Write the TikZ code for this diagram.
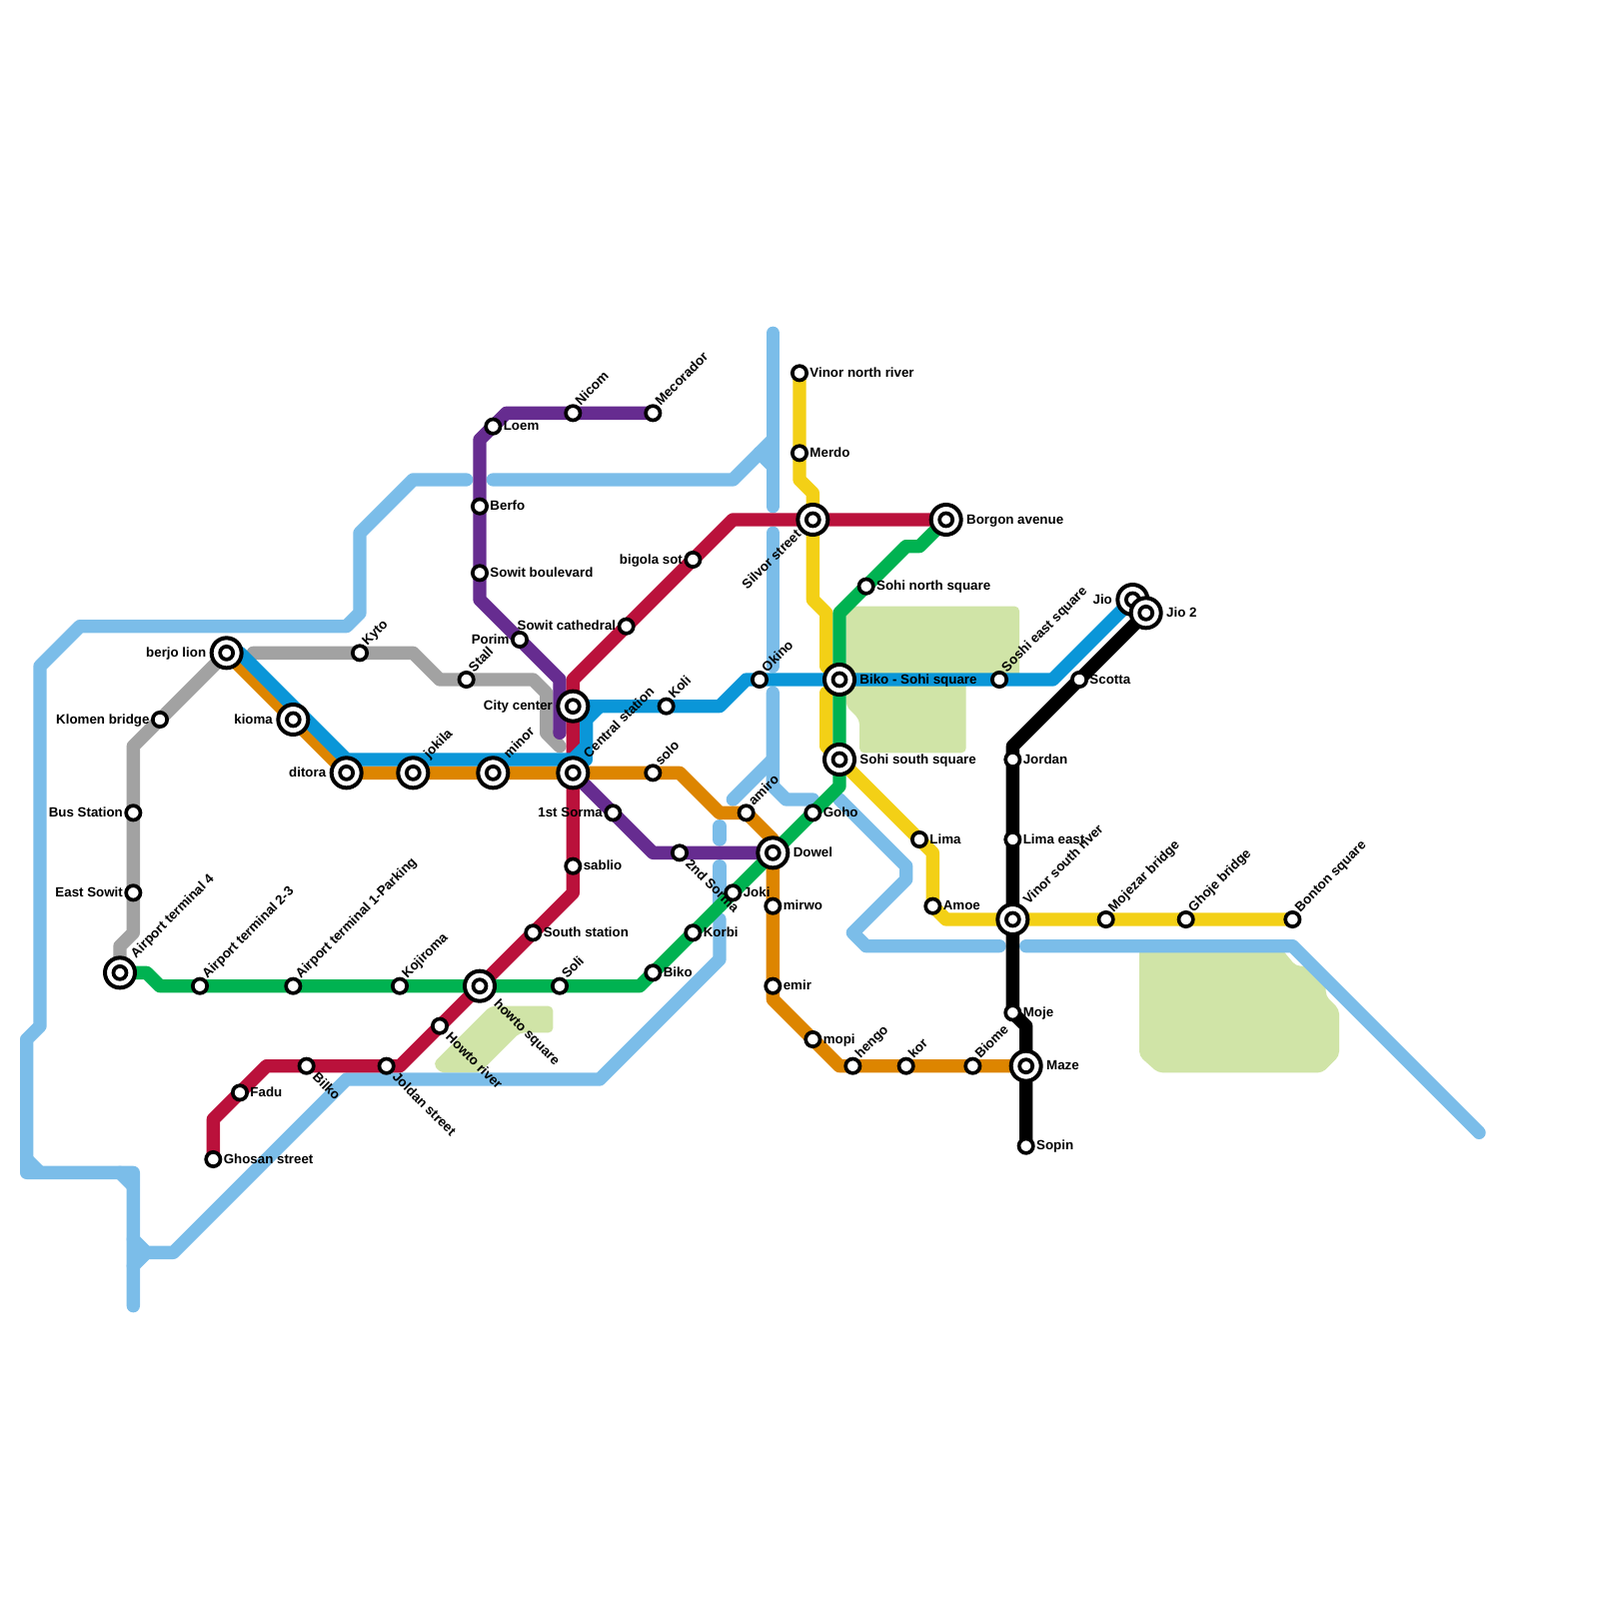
\documentclass[tikz,border=0pt]{standalone}
\usepackage{fontspec}
\setmainfont{Liberation Sans}
\pgfdeclarelayer{lines}
\pgfsetlayers{lines,main}
\definecolor{riverblue}{HTML}{7BBDE9}
\definecolor{parkgreen}{HTML}{D0E4A7}
\definecolor{linegrey}{HTML}{A2A2A2}
\definecolor{linepurple}{HTML}{662C90}
\definecolor{linered}{HTML}{BA113B}
\definecolor{lineyellow}{HTML}{F3D016}
\definecolor{lineorange}{HTML}{DD8500}
\definecolor{lineblue}{HTML}{0A96D8}
\definecolor{linegreen}{HTML}{00B251}
\tikzset{
  route/.style={line width=2mm, line cap=round, line join=round},
  river/.style={route, draw=riverblue},
  park/.style={fill=parkgreen, rounded corners=0.7mm},
  stop/.style={circle, draw=black, fill=white, line width=0.55mm, minimum size=2.15mm, inner sep=0pt},
  hub/.style={circle, draw=black, fill=white, line width=0.6mm, minimum size=4.5mm, inner sep=0pt},
  hubin/.style={circle, draw=black, fill=white, line width=0.56mm, minimum size=1.95mm, inner sep=0pt},
  lbl/.style={font=\bfseries\fontsize{5.69}{6}\selectfont, inner sep=0pt, text=black},
  lble/.style={lbl, anchor=base west, xshift=1.5mm, yshift=-0.6mm},
  lblw/.style={lbl, anchor=base east, xshift=-1.5mm, yshift=-0.6mm},
  lblne/.style={lbl, xshift=1.1mm, yshift=1mm, rotate=45, anchor=base west},
  lblse/.style={lbl, xshift=0.75mm, yshift=-1.75mm, rotate=-45, anchor=base west},
  hubne/.style={lbl, xshift=2.35mm, yshift=2.1mm, rotate=45, anchor=base west},
  hubse/.style={lbl, xshift=2mm, yshift=-2.75mm, rotate=-45, anchor=base west},
  hubsw/.style={lbl, xshift=-1.6mm, yshift=-2.3mm, rotate=45, anchor=base east},
  hube/.style={lbl, anchor=base west, xshift=3mm, yshift=-0.6mm},
  hubw/.style={lbl, anchor=base east, xshift=-3mm, yshift=-0.6mm}
}
\begin{document}
\begin{tikzpicture}[x=2mm,y=-2mm]
  \useasboundingbox (0,0) rectangle (120,120);
  % small stops
  \foreach \nm/\x/\y/\txt in {kyto/27/49/Kyto,stall/35/51/Stall,okino/57/51/Okino,koli/50/53/Koli,solo/49/58/solo,amiro/56/61/amiro,soli/42/74/Soli,kojiroma/30/74/Kojiroma,airtwo/15/74/Airport terminal 2-3,airone/22/74/Airport terminal 1-Parking,hengo/64/80/hengo,kor/68/80/kor,biome/73/80/Biome,nicom/43/31/Nicom,mecorador/49/31/Mecorador,soshi/75/51/Soshi east square,mojezar/83/69/Mojezar bridge,ghoje/89/69/Ghoje bridge,bonton/97/69/Bonton square}
    {\node[stop] (\nm) at (\x,\y) {}; \node[lblne] (\nm-t) at (\nm) {\txt};}
  \foreach \nm/\x/\y/\txt in {bilko/23/80/Bilko,joldan/29/80/Joldan street,howriver/33/77/Howto river,sorma2/51/64/2nd Sorma}
    {\node[stop] (\nm) at (\x,\y) {}; \node[lblse] (\nm-t) at (\nm) {\txt};}
  \foreach \nm/\x/\y/\txt in {klomen/12/54/Klomen bridge,bus/10/61/Bus Station,eastsowit/10/67/East Sowit,bigola/52/42/bigola sot,cathedral/47/47/Sowit cathedral,porim/39/48/Porim,sorma1/46/61/1st Sorma}
    {\node[stop] (\nm) at (\x,\y) {}; \node[lblw] (\nm-t) at (\nm) {\txt};}
  \foreach \nm/\x/\y/\txt in {fadu/18/82/Fadu,ghosan/16/87/Ghosan street,loem/37/32/Loem,berfo/36/38/Berfo,boulevard/36/43/Sowit boulevard,sablio/43/65/sablio,south/40/70/South station,biko/49/73/Biko,korbi/52/70/Korbi,joki/55/67/Joki,mirwo/58/68/mirwo,emir/58/74/emir,mopi/61/78/mopi,goho/61/61/Goho,vinornorth/60/28/Vinor north river,merdo/60/34/Merdo,sohinorth/65/44/Sohi north square,lima/69/63/Lima,amoe/70/68/Amoe,scotta/81/51/Scotta,jordan/76/57/Jordan,limaeast/76/63/Lima east,moje/76/76/Moje,sopin/77/86/Sopin}
    {\node[stop] (\nm) at (\x,\y) {}; \node[lble] (\nm-t) at (\nm) {\txt};}
  % interchanges
  \foreach \nm/\x/\y/\txt/\side in {berjo/17/49/berjo lion/hubw,kioma/22/54/kioma/hubw,ditora/26/58/ditora/hubw,city/43/53/City center/hubw,jio/85/45/Jio/hubw,jiotwo/86/46/Jio 2/hube,dowel/58/64/Dowel/hube,borgon/71/39/Borgon avenue/hube,bikosohi/63/51/Biko - Sohi square/hube,sohisouth/63/57/Sohi south square/hube,maze/77/80/Maze/hube,airfour/9/73/Airport terminal 4/hubne,jokila/31/58/jokila/hubne,minor/37/58/minor/hubne,central/43/58/Central station/hubne,vinorsouth/76/69/Vinor south river/hubne,howsquare/36/74/howto square/hubse,silvor/61/39/Silvor street/hubsw}
    {\node[hub] (\nm) at (\x,\y) {}; \node[hubin] (\nm-in) at (\nm) {}; \node[\side] (\nm-t) at (\nm) {\txt};}

  \begin{pgfonlayer}{lines}
    % parks
    \fill[park] (63.5,45.5) -- (76.5,45.5) -- (76.5,51) -- (72.5,51) -- (72.5,56.5) -- (64.5,56.5) -- (64.5,54) -- (63.5,53) -- cycle;
    \fill[park] (36.8,75.5) -- (41.5,75.5) -- (41.5,77.5) -- (39,77.5) -- (36,80.5) -- (33,80.5) -- (32.5,79.8) -- cycle;
    \fill[park] (85.5,71) -- (96,71) -- (97.25,72.5) -- (98.1,72.5) -- (99.5,73.75) -- (99.5,74.75) -- (100.5,75.75) -- (100.5,79.25) -- (99.25,80.5) -- (86.9,80.5) -- (85.5,79.25) -- cycle;
    % river
    \draw[river] (58,25) -- (58,38);
    \draw[river] (37,36) -- (55,36) -- (58,33);
    \draw[river] (57,34) -- (58,35);
    \draw[river] (35,36) -- (31,36) -- (27,40) -- (27,46) -- (26,47) -- (6,47) -- (3,50) -- (3,77) -- (2,78) -- (2,88) -- (10,88) -- (10,98);
    \draw[river] (2,87) -- (3,88);
    \draw[river] (9,88) -- (10,89);
    \draw[river] (10,93) -- (11,94) -- (13,94) -- (26,81) -- (45,81) -- (54,72) -- (54,69);
    \draw[river] (10,95) -- (11,94);
    \draw[river] (54,62) -- (54,63);
    \draw[river] (54,65) -- (54,68);
    \draw[river] (58,40) -- (58,50);
    \draw[river] (55,60) -- (58,57);
    \draw[river] (58,52) -- (58,59) -- (59,60) -- (61,60);
    \draw[river] (63,60) -- (68,65) -- (68,66) -- (64,70) -- (65,71) -- (75,71);
    \draw[river] (77,71) -- (97,71) -- (111,85);
    % lines
    \draw[route, linegrey] (airfour.center) -- (9,71) -- (10,70) -- (eastsowit.center) -- (bus.center) -- (10,56) -- (klomen.center) -- (berjo.center);
    \draw[route, linegrey] (19,49) -- (kyto.center) -- (31,49) -- (33,51) -- (stall.center) -- (40,51) -- (41,52) -- (41,55) -- (42,56);
    \draw[route, linepurple] (mecorador.center) -- (nicom.center) -- (38,31) -- (loem.center) -- (36,33) -- (berfo.center) -- (boulevard.center) -- (36,45) -- (porim.center) -- (42,51) -- (42,55);
    \draw[route, linepurple] (central.center) -- (sorma1.center) -- (49,64) -- (sorma2.center) -- (dowel.center);
    \draw[route, linered] (ghosan.center) -- (16,84) -- (fadu.center) -- (20,80) -- (bilko.center) -- (joldan.center) -- (30,80) -- (howriver.center) -- (howsquare.center) -- (south.center) -- (43,67) -- (sablio.center) -- (central.center) -- (city.center) -- (43,51) -- (cathedral.center) -- (bigola.center) -- (55,39) -- (silvor.center) -- (borgon.center);
    \draw[route, lineyellow] (vinornorth.center) -- (merdo.center) -- (60,36) -- (61,37) -- (silvor.center) -- (61,45) -- (62,46) -- (62,50) -- (bikosohi.center);
    \draw[route, lineyellow] (62,52) -- (62,56) -- (sohisouth.center) -- (lima.center) -- (70,64) -- (amoe.center) -- (71,69) -- (vinorsouth.center) -- (mojezar.center) -- (ghoje.center) -- (bonton.center);
    \draw[route, lineorange] (berjo.center) -- (kioma.center) -- (ditora.center) -- (jokila.center) -- (minor.center) -- (central.center) -- (solo.center) -- (51,58) -- (54,61) -- (amiro.center) -- (58,63) -- (dowel.center) -- (mirwo.center) -- (emir.center) -- (58,75) -- (mopi.center) -- (63,80) -- (hengo.center) -- (kor.center) -- (biome.center) -- (maze.center);
    \draw[route, lineblue] (berjo.center) -- (18,49) -- (26,57) -- (43,57) -- (44,56) -- (44,54) -- (45,53);
    \draw[route, lineblue] (44,56) -- (44,57);
    \draw[route, lineblue] (city.center) -- (koli.center) -- (54,53) -- (56,51) -- (okino.center) -- (bikosohi.center) -- (soshi.center) -- (79,51) -- (jio.center);
    \draw[route, linegreen] (airfour.center) -- (11,73) -- (12,74) -- (airtwo.center) -- (airone.center) -- (kojiroma.center) -- (howsquare.center) -- (soli.center) -- (48,74) -- (biko.center) -- (korbi.center) -- (joki.center) -- (dowel.center) -- (goho.center) -- (63,59) -- (sohisouth.center) -- (bikosohi.center) -- (63,46) -- (sohinorth.center) -- (68,41) -- (69,41) -- (borgon.center);
    \draw[route, black] (jiotwo.center) -- (scotta.center) -- (76,56) -- (jordan.center) -- (limaeast.center) -- (vinorsouth.center) -- (moje.center) -- (77,77) -- (maze.center) -- (sopin.center);
  \end{pgfonlayer}
\end{tikzpicture}
\end{document}
